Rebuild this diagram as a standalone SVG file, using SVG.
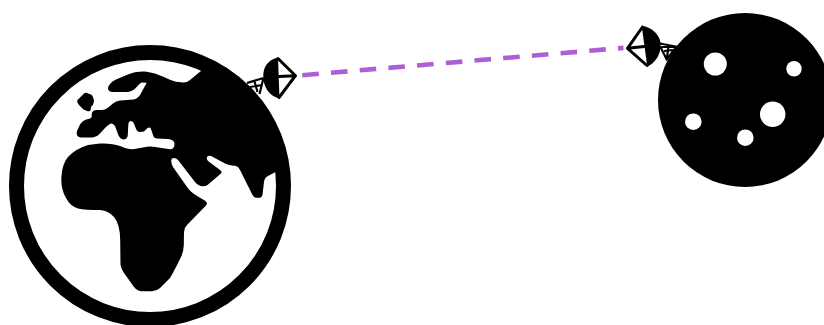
<svg xmlns="http://www.w3.org/2000/svg" width="824" height="325" viewBox="0 0 824 325">
<style>
.k{fill:#000}
.w{fill:#fff}
.s{fill:none;stroke:#000;stroke-width:3;stroke-linejoin:round;stroke-linecap:round}
.t{fill:none;stroke:#000;stroke-width:2.2}
.link{fill:none;stroke:#ae5fd6;stroke-width:4.6;stroke-dasharray:16.6 12.2}
</style>
<rect width="824" height="325" fill="#fff"/>
<g id="earth">
<circle cx="150" cy="186" r="133.5" fill="#fff" stroke="#000" stroke-width="15"/>
<path class="k" d="M200 71.7L190 80Q187 82.7 183 82.6L176 81.8Q170 80 163.3 76.7Q155 72.5 146.7 71.7Q136 71 126.7 75L116 79.5Q109 83 108 88Q108 92 113 92L128 92Q134 91 137.5 86L140 83.5Q141 82.5 143 82.5L146 82.7Q147 83 145.5 85L141.7 92Q139 98 134 99.5L120 100.5Q116 101 113 103.5L107.5 108Q105 110 102 110L96 110Q92 110.5 91.7 114L91.7 116Q91.7 118.5 88 119L85 120Q82 121 80 124.5L77 131Q75.5 137 81 137.5L93 137.5Q97 137 100 133.5L105 128Q109 124 111 123.5Q113 123 115 126L118.3 135Q120.5 139.5 124 139.5Q127.5 139 127.8 135L128.3 125Q128.5 121 131 121Q133.5 121.5 134.5 125L136.5 130Q137.5 132 140 132L144 131.5L147 128.5Q150 126.5 151 129L153 135Q154 138.5 157 138.5L168 139Q174 139.5 174.5 143.5Q174.5 149.5 170 149.3L155 147Q150 146 143 147.5L133 149.3Q128 149.5 120 146Q112 143 100 143.5L88 145Q75 149 68 157Q62 164 61.3 178Q61 190 66 198Q70 206 78 208.5Q85 210 100 210Q109 211 114 217Q120 224 120.2 240L120.5 265Q121 268 124 273L134 287Q137 291 142 291.3L152 291.3Q157 291 160 288L170 278Q173 273 176 267L181 257Q183.5 252 183.8 245L184 232Q184 228 187 225L206 205.5Q208 203 205.5 201L198 196.5Q190 192 186 185.5L173 167Q170 161 172 158.5Q175 157 178 160L195 182Q198 186 203 186.3Q205 186.5 207.5 185L221 173.5Q222.5 171.5 220 170L208 161Q205.5 158 208 156Q210 155 213 157L225 163.5Q228 165 232 165.5L236 166Q238.5 166.5 240 170L251 192Q253 197 256 197.8L260 197.8Q262.5 197 262.7 193L264 182Q264.5 177.5 268 176L276 171.7L284 172L275 130L255 105L230 85L205 68Z"/>
<path class="k" d="M77.5 100L84 93.5Q86 92 88 93.5L91 94.5Q93.5 96 94 101.5Q93.5 105 91 107L90.7 110Q90 112 87 111L83.5 109.5L79 105Q76.5 102 77.5 100Z"/>
</g>
<g id="moon">
<circle class="k" cx="745" cy="100" r="87"/>
<circle class="w" cx="715.3" cy="64" r="11.5"/>
<circle class="w" cx="794" cy="68.7" r="7.7"/>
<circle class="w" cx="772.7" cy="114.3" r="12.7"/>
<circle class="w" cx="693.3" cy="121.7" r="8.3"/>
<circle class="w" cx="745.3" cy="137.7" r="8.3"/>
</g>
<g id="dish-earth">
<path class="t" d="M263.5 78L247 83M263.5 78L259.5 94M250 87L262 85M254.5 81.5L257.5 92"/>
<path class="k" d="M278 57.5C267 60 263 68 263.3 77C263.5 87 269 96 279.5 98.5Z"/>
<path class="s" d="M278 58.5L295.5 75.7L279 97.5M278.5 76.5L295.5 75.7"/>
</g>
<g id="dish-moon">
<path class="t" d="M660 43.5L676.5 46.7L666.7 59.5L660.5 47M660.5 47L675 47M664 51L673 50M668.5 45L667 58"/>
<path class="k" d="M641.7 25.7C652 27 660.7 35 660.7 45C660.7 55 655 63 647.3 66.7Z"/>
<path class="s" d="M642.5 27L627.5 48.3L647 65.5M644.3 46.5L627.5 48.3"/>
</g>
<g id="connectors">
<path class="link" d="M302.3 75.2L623.5 47.9"/>
</g>
</svg>
